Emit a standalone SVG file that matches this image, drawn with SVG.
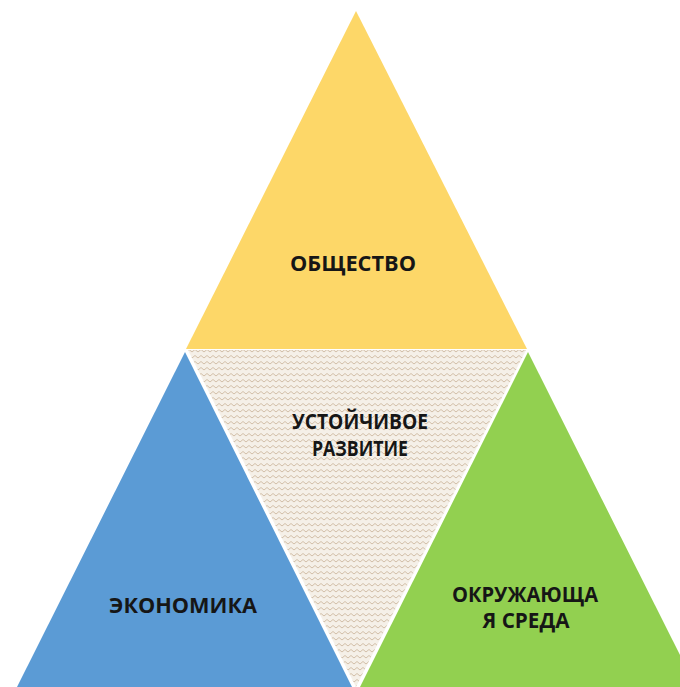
<svg xmlns="http://www.w3.org/2000/svg" width="680" height="687" viewBox="0 0 680 687">
<defs>
<pattern id="zig" width="6" height="6" patternUnits="userSpaceOnUse">
<rect width="6" height="6" fill="#f5f0e8"/>
<path d="M0 4 L3 1.5 L6 4" fill="none" stroke="#cdb9a0" stroke-width="0.9"/>
</pattern>
</defs>
<style>
text{font-family:"Open Sans","Liberation Sans",sans-serif;font-weight:bold;font-size:21px;fill:#161616;text-anchor:middle}
</style>
<rect width="680" height="687" fill="#ffffff"/>
<g id="center">
<polygon points="188,350 526,350 356,687" fill="url(#zig)"/>
<text x="360" y="429" textLength="136" lengthAdjust="spacingAndGlyphs">УСТОЙЧИВОЕ</text>
<text x="360" y="456" textLength="96" lengthAdjust="spacingAndGlyphs">РАЗВИТИЕ</text>
</g>
<g id="society">
<polygon points="356,11 527,349 186,349" fill="#fdd768"/>
<text x="353" y="271" textLength="126" lengthAdjust="spacingAndGlyphs">ОБЩЕСТВО</text>
</g>
<g id="economy">
<polygon points="185,352 352,687 17,687" fill="#5b9bd5"/>
<text x="183" y="613" textLength="148" lengthAdjust="spacingAndGlyphs">ЭКОНОМИКА</text>
</g>
<g id="environment">
<polygon points="528,352 696,687 360,687" fill="#92d050"/>
<text x="525" y="602" textLength="146" lengthAdjust="spacingAndGlyphs">ОКРУЖАЮЩА</text>
<text x="526" y="628" textLength="87" lengthAdjust="spacingAndGlyphs">Я СРЕДА</text>
</g>
<g id="connectors"></g>
</svg>
